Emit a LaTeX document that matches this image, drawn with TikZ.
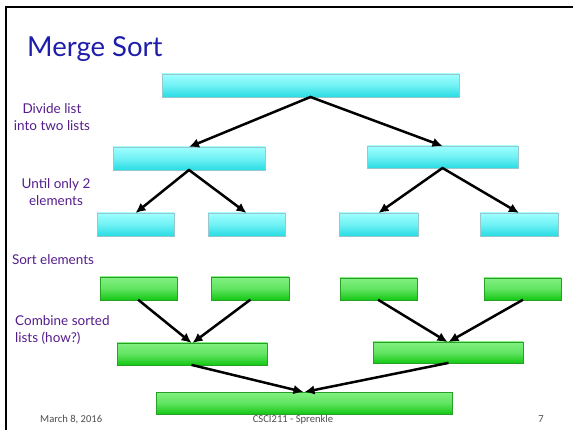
\documentclass[tikz,border=0pt]{standalone}
\usepackage{fontspec}
\setmainfont{Lato}
\newfontfamily\footfont{Carlito}
\usetikzlibrary{arrows.meta,shadows}
\definecolor{titleblue}{RGB}{30,30,170}
\definecolor{labpurple}{RGB}{85,30,140}
\definecolor{cyantop}{RGB}{160,255,255}
\definecolor{cyanbot}{RGB}{40,220,228}
\definecolor{cyanedge}{RGB}{150,200,205}
\definecolor{greentop}{RGB}{130,240,130}
\definecolor{greenbot}{RGB}{20,200,20}
\definecolor{greenedge}{RGB}{40,160,40}
\definecolor{footgray}{RGB}{80,80,80}
\begin{document}
\begin{tikzpicture}[x=1pt,y=-1pt,
  boxbase/.style={inner sep=0pt, outer sep=0pt, line width=0.8pt,
    drop shadow={opacity=0.2, shadow xshift=0.8pt, shadow yshift=-1.2pt}},
  cbox/.style={boxbase, draw=cyanedge, top color=cyantop, bottom color=cyanbot, middle color=cyantop!60!cyanbot},
  gbox/.style={boxbase, draw=greenedge, top color=greentop, bottom color=greenbot, middle color=greentop!70!greenbot},
  arr/.style={line width=2.5pt, -{Latex[length=10pt,width=9.5pt]}, shorten <=-0.5pt},
  lab/.style={text=labpurple, font=\fontsize{13.5pt}{17pt}\selectfont, align=center, inner sep=0pt},
  foot/.style={text=footgray, font=\footfont\fontsize{10.6pt}{12pt}\selectfont, inner sep=0pt}
]
\useasboundingbox (0,0) rectangle (573,430);
\clip (0,0) rectangle (573,430);
\fill[white] (-2,-2) rectangle (575,432);
\draw[line width=2.6pt] (6,440) -- (6,7) -- (590,7);

\node[text=titleblue, font=\fontsize{27.5pt}{30pt}\selectfont, anchor=base west, inner sep=0pt] (title) at (27,57) {Merge Sort};

% level 1
\node[cbox, minimum width=297pt, minimum height=23pt] (t) at (310.5,85.5) {};
% level 2
\node[cbox, minimum width=152pt, minimum height=23pt] (l2a) at (189,158.5) {};
\node[cbox, minimum width=151pt, minimum height=22pt] (l2b) at (442.5,157) {};
% level 3
\node[cbox, minimum width=77pt, minimum height=23pt] (c1) at (135.5,224.5) {};
\node[cbox, minimum width=77pt, minimum height=23pt] (c2) at (246.5,224.5) {};
\node[cbox, minimum width=79pt, minimum height=23pt] (c3) at (378.5,224.5) {};
\node[cbox, minimum width=78pt, minimum height=23pt] (c4) at (519,224.5) {};
% level 4
\node[gbox, minimum width=77pt, minimum height=23pt] (g1) at (138.5,288.5) {};
\node[gbox, minimum width=78pt, minimum height=23pt] (g2) at (250,288.5) {};
\node[gbox, minimum width=77pt, minimum height=22pt] (g3) at (378.5,289) {};
\node[gbox, minimum width=77pt, minimum height=22pt] (g4) at (522.5,289) {};
% level 5
\node[gbox, minimum width=150pt, minimum height=22pt] (m1) at (192,354) {};
\node[gbox, minimum width=150pt, minimum height=21pt] (m2) at (448,352.5) {};
% level 6
\node[gbox, minimum width=296pt, minimum height=22pt] (b) at (304,403) {};

% arrows
\draw[arr] (t.south) -- (l2a.north);
\draw[arr] (t.south) -- (l2b.north);
\draw[arr] (l2a.south) -- (c1.north);
\draw[arr] (l2a.south) -- (c2.north);
\draw[arr] (l2b.south) -- (c3.north);
\draw[arr] (l2b.south) -- (c4.north);
\draw[arr] (g1.south) -- ([xshift=-0.5pt]m1.north);
\draw[arr] (g2.south) -- ([xshift=0.5pt]m1.north);
\draw[arr] (g3.south) -- ([xshift=-0.5pt]m2.north);
\draw[arr] (g4.south) -- ([xshift=0.5pt]m2.north);
\draw[arr] (m1.south) -- ([xshift=-0.5pt]b.north);
\draw[arr] (m2.south) -- ([xshift=0.5pt]b.north);

% labels
\node[lab] (l1) at (52,117) {Divide list\\into two lists};
\node[lab] (l2) at (56,192) {Until only 2\\elements};
\node[lab] (l3) at (53,260) {Sort elements};
\node[lab, align=left, anchor=west] (l4) at (15,330.5) {Combine sorted\\lists (how?)};

% footer
\node[foot, anchor=base west] (f1) at (40,422) {March 8, 2016};
\node[foot, anchor=base] (f2) at (293,422) {CSCI211 - Sprenkle};
\node[foot, anchor=base] (f3) at (541,422) {7};
\end{tikzpicture}
\end{document}
